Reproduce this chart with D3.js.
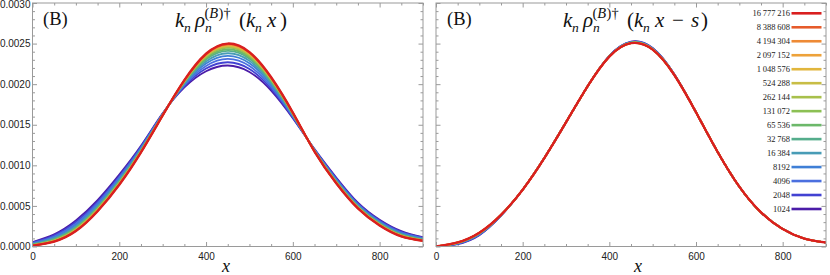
<!DOCTYPE html>
<html>
<head>
<meta charset="utf-8">
<script src="https://cdn.jsdelivr.net/npm/d3@7"></script>
<style>
  body { margin: 0; background: #fff; }
  svg { display: block; }
</style>
</head>
<body>
<svg id="chart" width="830" height="275"></svg>
<script>
// sample positions along x
const xSamples = [0, 50, 100, 150, 200, 250, 300, 350, 400, 450, 500, 550, 600, 650, 700, 750, 800, 850, 900];

// system sizes n, from the bottom curve (1024) to the top curve
const sizes = [1024, 2048, 4096, 8192, 16384, 32768, 65536, 131072, 262144, 524288,
  1048576, 2097152, 4194304, 8388608, 16777216];

const colors = ['#4b1ca8', '#4242d2', '#4b6fdf', '#3f7fd6', '#489cb6', '#55ad8c', '#6cb86a',
  '#8cc054', '#a8c04b', '#c8bd45', '#e1b63d', '#eda23a', '#ee8a35', '#e65b2b', '#d91f1f'];

// left panel: k_n rho(k_n x), values in units of 1e-6
const leftValues = [
  [55, 150, 320, 570, 885, 1240, 1640, 1960, 2160, 2230, 2150, 1920, 1580, 1200, 850, 540, 330, 190, 115],
  [48, 137, 301, 550, 866, 1228, 1636, 1973, 2192, 2270, 2187, 1945, 1590, 1196, 840, 530, 320, 180, 108],
  [42, 123, 281, 530, 848, 1216, 1633, 1987, 2224, 2311, 2223, 1969, 1601, 1191, 829, 519, 309, 171, 102],
  [35, 110, 263, 511, 830, 1205, 1629, 2000, 2255, 2349, 2258, 1993, 1611, 1187, 819, 509, 299, 161, 95],
  [30, 100, 247, 494, 815, 1195, 1626, 2010, 2280, 2381, 2287, 2012, 1619, 1183, 811, 501, 291, 154, 90],
  [25, 90, 233, 480, 801, 1186, 1623, 2020, 2304, 2411, 2314, 2031, 1627, 1180, 803, 493, 283, 146, 85],
  [22, 83, 224, 470, 793, 1181, 1622, 2027, 2319, 2430, 2331, 2042, 1632, 1178, 798, 488, 278, 142, 82],
  [19, 77, 215, 461, 784, 1175, 1620, 2033, 2334, 2449, 2348, 2054, 1637, 1176, 793, 483, 273, 137, 79],
  [17, 74, 210, 455, 779, 1172, 1619, 2036, 2343, 2459, 2358, 2060, 1639, 1175, 791, 481, 271, 135, 77],
  [15, 70, 204, 450, 774, 1169, 1618, 2040, 2351, 2470, 2368, 2067, 1642, 1173, 788, 478, 268, 132, 75],
  [14, 67, 200, 446, 770, 1166, 1617, 2043, 2358, 2478, 2375, 2072, 1644, 1172, 786, 476, 266, 130, 74],
  [13, 65, 198, 443, 768, 1165, 1617, 2045, 2362, 2484, 2380, 2075, 1646, 1172, 784, 474, 264, 129, 73],
  [12, 64, 195, 440, 765, 1163, 1616, 2046, 2366, 2489, 2385, 2078, 1647, 1171, 783, 473, 263, 128, 72],
  [11, 62, 193, 438, 763, 1162, 1616, 2048, 2371, 2495, 2390, 2082, 1649, 1171, 781, 471, 261, 126, 71],
  [10, 60, 190, 435, 760, 1160, 1615, 2050, 2375, 2500, 2395, 2085, 1650, 1170, 780, 470, 260, 125, 70]
];

// right panel: k_n rho(k_n x - s), values in units of 1e-6
const rightValues = [
  [0, 30, 140, 380, 700, 1090, 1530, 1975, 2350, 2525, 2446, 2123, 1654, 1164, 737, 420, 215, 98, 50],
  [0, 33, 144, 381, 700, 1090, 1530, 1975, 2349, 2522, 2443, 2122, 1654, 1164, 737, 420, 215, 98, 50],
  [0, 36, 149, 383, 700, 1090, 1530, 1975, 2347, 2519, 2440, 2120, 1654, 1164, 737, 420, 215, 98, 50],
  [0, 39, 153, 384, 700, 1090, 1530, 1975, 2346, 2516, 2437, 2119, 1654, 1164, 737, 420, 215, 98, 50],
  [0, 41, 157, 386, 700, 1090, 1530, 1975, 2344, 2514, 2435, 2117, 1654, 1164, 737, 420, 215, 98, 50],
  [0, 43, 160, 387, 700, 1090, 1530, 1975, 2343, 2512, 2433, 2116, 1654, 1164, 737, 420, 215, 98, 50],
  [0, 45, 162, 387, 700, 1090, 1530, 1975, 2343, 2510, 2431, 2116, 1654, 1164, 737, 420, 215, 98, 50],
  [0, 46, 164, 388, 700, 1090, 1530, 1975, 2342, 2509, 2430, 2115, 1654, 1164, 737, 420, 215, 98, 50],
  [0, 47, 165, 388, 700, 1090, 1530, 1975, 2342, 2508, 2429, 2115, 1654, 1164, 737, 420, 215, 98, 50],
  [0, 48, 167, 389, 700, 1090, 1530, 1975, 2341, 2507, 2428, 2114, 1654, 1164, 737, 420, 215, 98, 50],
  [0, 48, 168, 389, 700, 1090, 1530, 1975, 2341, 2507, 2428, 2114, 1654, 1164, 737, 420, 215, 98, 50],
  [0, 50, 170, 390, 700, 1090, 1530, 1975, 2340, 2505, 2426, 2113, 1654, 1164, 737, 420, 215, 98, 50],
  [0, 50, 170, 390, 700, 1090, 1530, 1975, 2340, 2505, 2426, 2113, 1654, 1164, 737, 420, 215, 98, 50],
  [0, 50, 170, 390, 700, 1090, 1530, 1975, 2340, 2505, 2426, 2113, 1654, 1164, 737, 420, 215, 98, 50],
  [0, 50, 170, 390, 700, 1090, 1530, 1975, 2340, 2505, 2426, 2113, 1654, 1164, 737, 420, 215, 98, 50]
];

const xTicks = [0, 200, 400, 600, 800];
const yTicks = [0, 0.0005, 0.0010, 0.0015, 0.0020, 0.0025, 0.0030];

const svg = d3.select('#chart');
const serif = 'Liberation Serif, Times New Roman, serif';
const sans = 'Liberation Sans, Arial, sans-serif';
const frameColor = '#9a9a9a';

const y = d3.scaleLinear().domain([0, 0.003]).range([246.5, 3]);

// Builds one panel: frame, ticks, curves
function drawPanel(x0, x1, values, showYLabels, id) {
    const x = d3.scaleLinear().domain([0, 900]).range([x0, x1]);
    const g = svg.append('g');

    g.append('clipPath').attr('id', id)
        .append('rect').attr('x', x0).attr('y', y(0.003))
        .attr('width', x1 - x0).attr('height', y(0) - y(0.003));

    const minorX = d3.range(0, 901, 50).filter(v => v % 200 !== 0);
    const minorY = d3.range(0, 31).map(v => v / 10000).filter((v, i) => i % 5 !== 0);

    // bottom / top ticks
    const bottom = g.append('g').attr('transform', `translate(0,${y(0)})`);
    bottom.call(d3.axisBottom(x).tickValues(xTicks).tickSize(-4.5).tickPadding(6).tickFormat(d3.format('d')));
    bottom.append('g').call(d3.axisBottom(x).tickValues(minorX).tickSize(-2.5).tickFormat(''));
    const top = g.append('g').attr('transform', `translate(0,${y(0.003)})`);
    top.call(d3.axisTop(x).tickValues(xTicks).tickSize(-4.5).tickFormat(''));
    top.append('g').call(d3.axisTop(x).tickValues(minorX).tickSize(-2.5).tickFormat(''));

    // left / right ticks
    const left = g.append('g').attr('transform', `translate(${x0},0)`);
    left.call(d3.axisLeft(y).tickValues(yTicks).tickSize(-4.5).tickPadding(2)
        .tickFormat(showYLabels ? d3.format('.4f') : ''));
    left.append('g').call(d3.axisLeft(y).tickValues(minorY).tickSize(-2.5).tickFormat(''));
    const right = g.append('g').attr('transform', `translate(${x1},0)`);
    right.call(d3.axisRight(y).tickValues(yTicks).tickSize(-4.5).tickFormat(''));
    right.append('g').call(d3.axisRight(y).tickValues(minorY).tickSize(-2.5).tickFormat(''));

    g.selectAll('.domain').remove();
    g.selectAll('.tick line').attr('stroke', frameColor);
    g.selectAll('.tick text').attr('font-family', sans).attr('font-size', 10).attr('fill', '#222');
    // the top label sits against the upper edge, as in the original
    left.selectAll('.tick text').filter(d => d === 0.003).attr('dy', '0.45em');

    const line = d3.line()
        .x((d, i) => x(xSamples[i]))
        .y(d => y(d * 1e-6))
        .curve(d3.curveNatural);

    g.append('g').attr('clip-path', `url(#${id})`)
        .selectAll('path')
        .data(values)
        .enter().append('path')
        .attr('d', line)
        .attr('fill', 'none')
        .attr('stroke', (d, i) => colors[i])
        .attr('stroke-width', (d, i) => i === values.length - 1 ? 2.4 : 1.8)
        .attr('stroke-linejoin', 'round');

    g.append('rect')
        .attr('x', x0).attr('y', y(0.003))
        .attr('width', x1 - x0).attr('height', y(0) - y(0.003))
        .attr('fill', 'none').attr('stroke', frameColor).attr('stroke-width', 1);

    return x;
}

drawPanel(32.5, 423, leftValues, true, 'clipL');
drawPanel(436, 826, rightValues, false, 'clipR');

// formula titles drawn piece by piece
function drawTitle(x0, y0, pieces) {
    const t = svg.append('text').attr('font-family', serif).attr('fill', '#111');
    pieces.forEach(p => {
        t.append('tspan')
            .attr('x', x0 + p.dx)
            .attr('y', y0 + (p.dy || 0))
            .attr('font-size', p.size || 21)
            .attr('font-style', p.it ? 'italic' : 'normal')
            .text(p.t);
    });
}

const head = [
    { t: 'k', dx: 0, it: 1 },
    { t: 'n', dx: 9, dy: 5, size: 13.5, it: 1 },
    { t: 'ρ', dx: 20, it: 1 },
    { t: 'n', dx: 30, dy: 5, size: 13.5, it: 1 },
    { t: '(', dx: 29.5, dy: -9.5, size: 14.5 },
    { t: 'B', dx: 34.2, dy: -9.5, size: 14.5, it: 1 },
    { t: ')', dx: 43.5, dy: -9.5, size: 14.5 },
    { t: '†', dx: 48.5, dy: -9.5, size: 14.5 },
    { t: '(', dx: 64 },
    { t: 'k', dx: 71, it: 1 },
    { t: 'n', dx: 80, dy: 5, size: 13.5, it: 1 },
    { t: 'x', dx: 92, it: 1 }
];

drawTitle(175, 27, head.concat([{ t: ')', dx: 105 }]));
drawTitle(563, 27, head.concat([
    { t: '−', dx: 109 },
    { t: 's', dx: 128, it: 1 },
    { t: ')', dx: 138 }
]));

[43, 447].forEach(px => {
    svg.append('text').attr('x', px).attr('y', 24.5)
        .attr('font-family', serif).attr('font-size', 18.5).attr('fill', '#111')
        .text('(B)');
});

// axis labels
[226, 638].forEach(px => {
    svg.append('text').attr('x', px).attr('y', 272)
        .attr('text-anchor', 'middle')
        .attr('font-family', serif).attr('font-size', 18).attr('font-style', 'italic')
        .attr('fill', '#111')
        .text('x');
});

// legend, largest n on top
const fmtSize = n => n < 10000 ? String(n) : d3.format(',')(n).replace(/,/g, '\u2009');
const legendRow = d3.scaleLinear().domain([0, sizes.length - 1]).range([13.3, 209]);
const legend = svg.append('g');
sizes.slice().reverse().forEach((n, i) => {
    const ci = sizes.length - 1 - i;
    const ly = legendRow(i);
    legend.append('line')
        .attr('x1', 791.5).attr('x2', 821.5).attr('y1', ly).attr('y2', ly)
        .attr('stroke', colors[ci]).attr('stroke-width', 2.6);
    legend.append('text')
        .attr('x', 790).attr('y', ly).attr('dy', '0.33em')
        .attr('text-anchor', 'end')
        .attr('font-family', serif).attr('font-size', 8.5).attr('fill', '#222')
        .text(fmtSize(n));
});
</script>
</body>
</html>
